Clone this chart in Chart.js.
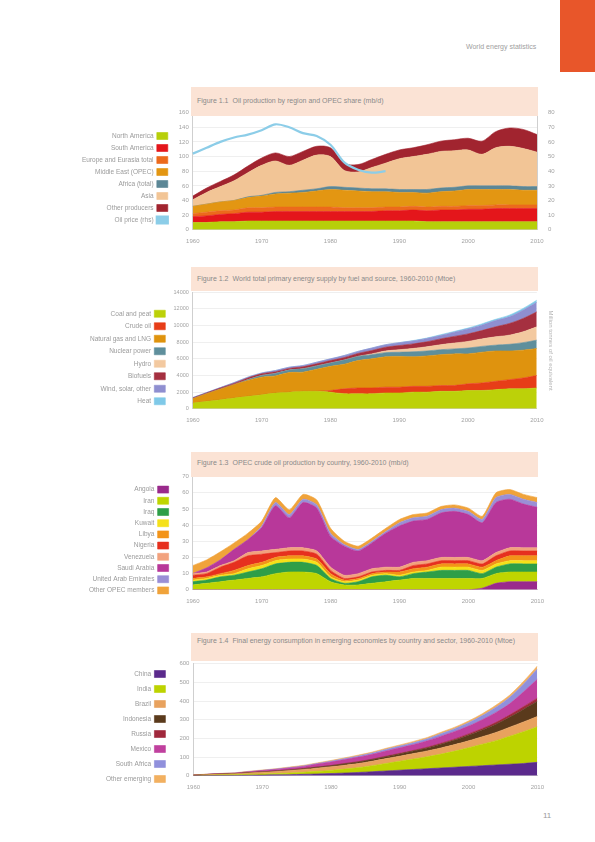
<!DOCTYPE html>
<html>
<head>
<meta charset="utf-8">
<script src="https://cdn.jsdelivr.net/npm/chart.js@4.4.1/dist/chart.umd.min.js"></script>
<style>
  html, body { margin: 0; padding: 0; background: #fff; }
  body { width: 595px; height: 842px; position: relative; overflow: hidden; font-family: "Liberation Sans", Arial, sans-serif; }
  .tab { position: absolute; left: 560px; top: 0; width: 35px; height: 72px; background: #e8562a; }
  .head { position: absolute; left: 466px; top: 43px; font-size: 7px; color: #a0a0a0; }
  .pageno { position: absolute; left: 543px; top: 811px; font-size: 8px; color: #9a9a9a; }
  .ttl { position: absolute; left: 191px; width: 347px; background: #fbe3d5; color: #8a8a8a; font-size: 7px; line-height: 11px;
         padding: 0 6px; box-sizing: border-box; display: flex; z-index: 2; }
  .ttl span:first-child { flex: none; margin-right: 4px; }
  canvas { position: absolute; z-index: 1; }
</style>
</head>
<body>
<div class="tab"></div>
<div class="head">World energy statistics</div>

<div class="ttl" style="top:87px;height:29px;padding-top:8px"><span>Figure 1.1</span><span>Oil production by region and OPEC share (mb/d)</span></div>
<div class="ttl" style="top:267px;height:24px;padding-top:6px"><span>Figure 1.2</span><span>World total primary energy supply by fuel and source, 1960-2010 (Mtoe)</span></div>
<div class="ttl" style="top:452px;height:25px;padding-top:5px"><span>Figure 1.3</span><span>OPEC crude oil production by country, 1960-2010 (mb/d)</span></div>
<div class="ttl" style="top:633px;height:28px;padding-top:2px;line-height:12px"><span>Figure 1.4</span><span>Final energy consumption in emerging economies by country and sector, 1960-2010 (Mtoe)</span></div>

<div class="pageno">11</div>

<script>
// ---- data ----
const YEARS = [1960,1962,1964,1966,1968,1970,1972,1974,1976,1978,1980,1982,1984,1986,1988,1990,1992,1994,1996,1998,2000,2002,2004,2006,2008,2010];

// figure 1.1 (left axis, stacked) + line on right axis
const c1Names  = ["North America","South America","Europe and Eurasia total","Middle East (OPEC)","Africa (total)","Asia","Other producers"];
const c1Colors = ["#b7cf0a","#e4161b","#ec6a1c","#e39612","#5c8796","#f2c596","#a1242f"];
const c1Green     = [10,10,11,11,12,12,12,12,12,12,12,12,12,12,12,12,12,11,11,11,11,11,11,11,11,11];
const c1Red       = [8,9,10,11,12,12,13,13,13,13,13,13,13,13,14,14,15,15,16,16,17,17,18,18,18,18];
const c1OrangeRed = [4,5,5,5,6,6,6,6,6,6,6,5,5,5,5,5,5,5,5,5,5,5,5,5,5,5];
const c1Orange    = [10,11,12,13,14,16,18,19,20,22,24,24,23,22,21,20,19,19,20,21,22,22,21,21,20,20];
const c1BlueGray  = [0,0,0,0,1,1,2,2,3,3,4,4,4,4,4,4,4,5,5,5,5,5,5,5,5,5];
const c1Peach     = [9,16,21,27,33,41,43,36,41,46,41,23,22,29,35,42,45,48,50,50,49,43,52,54,52,47];
const c1Maroon    = [5,6,7,8,9,10,11,12,12,12,12,10,10,11,12,12,12,13,14,15,16,18,22,25,26,24];
const c1Line      = [52,56,60,63,65,68,72,70,66,64,58,46,41,39,40,null,null,null,null,null,null,null,null,null,null,null];

// figure 1.2
const c2Names  = ["Coal and peat","Crude oil","Natural gas and LNG","Nuclear power","Hydro","Biofuels","Wind, solar, other","Heat"];
const c2Colors = ["#bcd109","#e73d18","#df930e","#5f8f9c","#f3c9a0","#a53040","#8f8fd0","#7fc9e8"];
const c2Green    = [700,900,1100,1300,1500,1700,1900,2000,2100,2100,2000,1800,1800,1800,1900,1900,2000,2000,2100,2100,2200,2200,2300,2400,2400,2500];
const c2Red      = [0,0,0,0,0,0,0,0,0,0,200,600,700,700,700,700,700,700,700,700,800,900,1000,1100,1300,1500];
const c2Orange   = [500,900,1250,1600,1900,2100,2050,2350,2300,2650,2900,2950,3300,3500,3650,3700,3550,3650,3700,3800,3600,3700,3650,3450,3350,3250];
const c2BlueGray = [0,0,0,0,100,200,300,300,400,400,400,500,500,500,500,500,600,600,600,600,700,700,700,800,900,1000];
const c2Peach    = [0,0,0,0,0,0,0,0,0,0,0,0,0,100,200,300,400,500,600,700,800,900,1000,1100,1300,1600];
const c2DarkRed  = [100,100,150,150,200,200,200,200,250,250,300,300,350,400,450,500,550,600,700,800,900,1000,1200,1400,1600,1800];
const c2Purple   = [50,50,50,100,100,100,150,150,150,200,200,250,250,300,300,350,350,400,400,500,600,650,750,800,1000,1150];
const c2Sky      = [0,0,0,0,0,0,0,0,0,0,0,0,0,0,0,0,50,50,100,100,100,150,150,200,200,250];

// figure 1.3
const c3Names  = ["Angola","Iran","Iraq","Kuwait","Libya","Nigeria","Venezuela","Saudi Arabia","United Arab Emirates","Other OPEC members"];
const c3Colors = ["#9a2a8c","#bfd500","#2e9e48","#f5e11a","#f39419","#e6301f","#f2a27e","#b8389a","#9a8fd6","#f0a33a"];
const c3Purple   = [0,0,0,0,0,0,0,0,0,0,0,0,0,0,0,0,0,0,0,0,0,1,4,5,5,5];
const c3YGreen   = [3,4,5,6,7,8,10,11,11,10,5,3,3,4,5,6,7,7,7,7,7,6,6,6,6,6];
const c3Green    = [2,2,3,3,4,5,6,6,6,5,2,1,2,4,4,2,3,4,5,5,5,3,4,5,5,5];
const c3Yellow   = [1,1,1,1,2,2,2,2,2,2,1,1,1,1,1,1,1,1,2,2,2,2,2,2,2,2];
const c3Orange   = [1,1,1,2,2,2,2,2,2,2,2,1,1,1,1,2,2,2,2,2,2,2,2,3,3,3];
const c3Red      = [2,2,4,5,6,5,3,3,3,3,2,1,1,1,1,1,2,2,2,2,2,2,3,3,3,3];
const c3Salmon   = [1,1,1,1,2,2,2,2,2,2,2,2,2,2,2,2,2,2,2,2,2,2,2,2,2,2];
const c3Magenta  = [0,2.5,3.5,7,8,14.5,27,18.5,28,26.5,19,18,14,16,21,25.5,25.5,25.5,27.5,28.5,26.5,23.5,31,30,27,25];
const c3Lavender = [0,0,0,0,0,1,2,2,2,2,2,1,1,1,1,2,2,2,2,2,2,2,3,3,3,3];
const c3Top      = [5,5,5,4,4,3,3,3,3,3,3,2,2,2,2,2,2,2,2,2,2,2,3,3,3,3];

// figure 1.4
const c4Names  = ["China","India","Brazil","Indonesia","Russia","Mexico","South Africa","Other emerging"];
const c4Colors = ["#5b2a8c","#bdd300","#e8a25e","#5a3a1c","#a0283c","#c0409e","#9090dc","#f2b060"];
const c4Purple   = [1,1,2,2,3,4,5,6,8,10,12,15,18,22,26,30,34,38,42,46,50,54,58,62,66,72];
const c4YGreen   = [1,2,3,4,5,6,7,9,11,14,17,21,26,32,40,48,56,64,74,86,100,115,130,150,170,190];
const c4Tan      = [2,3,4,5,7,9,11,13,15,17,19,21,22,24,26,27,29,31,33,35,37,40,44,48,52,55];
const c4Brown    = [0,1,1,1,2,2,3,3,4,5,6,7,8,9,10,12,14,16,20,24,30,36,44,54,68,82];
const c4Maroon   = [0,0,0,0,0,0,0,1,1,1,1,2,2,2,3,3,3,4,5,6,7,8,10,12,14,16];
const c4Magenta  = [0,1,2,2,4,7,8,10,11,16,19,21,24,26,28,30,31,34,38,40,42,47,53,60,79,101];
const c4Lavender = [0,0,0,1,1,1,2,2,3,3,4,5,6,7,8,9,10,11,13,15,18,22,28,34,42,55];
const c4Top      = [1,1,1,1,2,2,2,3,3,3,4,4,5,5,6,6,7,7,8,8,9,10,11,12,14,16];

// ---- helpers ----
const GREY = "#a3a3a3";
const tickFont = { family: "Liberation Sans", size: 6 };
Chart.defaults.font.family = "Liberation Sans";

function stack(names, colors, values, tension) {
  return names.map((name, i) => ({
    label: name, data: values[i],
    backgroundColor: colors[i], borderColor: colors[i], borderWidth: 0.6,
    fill: i === 0 ? "origin" : "-1", pointRadius: 0, tension: tension, yAxisID: "y",
  }));
}

function options(yMax, yStep, gap, fmt, yWidth) {
  return {
    responsive: false, maintainAspectRatio: false, animation: false, devicePixelRatio: 1,
    layout: { padding: { left: 10, right: 2, top: 6, bottom: 0 } },
    plugins: {
      tooltip: { enabled: false },
      legend: {
        position: "left", rtl: true, textDirection: "ltr", maxWidth: 250,
        labels: {
          boxWidth: 11, boxHeight: 7, padding: gap, color: "#9a9a9a",
          font: { family: "Liberation Sans", size: 6.5 },
          sort: (a, b) => a.datasetIndex - b.datasetIndex,
        },
      },
    },
    scales: {
      x: {
        grid: { display: false }, border: { color: "#cfcfcf" },
        ticks: { autoSkip: false, maxRotation: 0, color: GREY, font: tickFont, padding: 0,
                 callback: (v, i) => i % 5 === 0 ? YEARS[i] : "" },
      },
      y: {
        stacked: true, min: 0, max: yMax,
        grid: { color: "#efefef", drawTicks: false }, border: { color: "#cfcfcf" },
        ticks: { stepSize: yStep, color: GREY, font: tickFont, padding: 4, callback: fmt || (v => v) },
        afterFit: s => { s.width = yWidth || 20; },
      },
    },
  };
}

// draw once to measure the margins round the plot, then redraw so the plot sits on box [l, t, r, b]
function build(makeConfig, box) {
  const probe = document.createElement("canvas");
  probe.width = 900; probe.height = 160;
  document.body.appendChild(probe);
  const p = new Chart(probe, makeConfig());
  const a = p.chartArea;
  const m = { l: a.left, t: a.top, r: p.width - a.right, b: p.height - a.bottom };
  p.destroy();
  probe.remove();

  const cv = document.createElement("canvas");
  cv.width = Math.round(box[2] - box[0] + m.l + m.r);
  cv.height = Math.round(box[3] - box[1] + m.t + m.b);
  cv.style.left = (box[0] - m.l) + "px";
  cv.style.top = (box[1] - m.t) + "px";
  document.body.appendChild(cv);
  return new Chart(cv, makeConfig());
}

// ---- figure 1.1 ----
build(() => {
  const o = options(160, 20, 5);
  o.scales.y2 = {
    position: "right", min: 0, max: 80, grid: { display: false }, border: { color: "#cfcfcf" },
    ticks: { stepSize: 10, color: GREY, font: tickFont, padding: 3 },
    afterFit: s => { s.width = 22; },
  };
  const ds = stack(c1Names, c1Colors, [c1Green, c1Red, c1OrangeRed, c1Orange, c1BlueGray, c1Peach, c1Maroon], 0.3);
  ds.push({
    label: "Oil price (rhs)", data: c1Line, yAxisID: "y2", order: -1,
    borderColor: "#8ccde8", backgroundColor: "#8ccde8", borderWidth: 2.2,
    fill: false, pointRadius: 0, tension: 0.3,
  });
  return { type: "line", data: { labels: YEARS, datasets: ds }, options: o };
}, [193, 113, 537, 230]);

// ---- figure 1.2 ----
build(() => {
  const o = options(14000, 2000, 5.5, null, 22);
  o.scales.y.ticks.font = { family: "Liberation Sans", size: 5.5 };
  o.scales.y2 = {
    position: "right", grid: { display: false }, border: { display: false }, ticks: { display: false },
    title: { display: true, text: "Million tonnes of oil equivalent", color: "#b5b5b5", font: { size: 6 }, padding: 2 },
  };
  return {
    type: "line",
    data: { labels: YEARS, datasets: stack(c2Names, c2Colors, [c2Green, c2Red, c2Orange, c2BlueGray, c2Peach, c2DarkRed, c2Purple, c2Sky], 0.3) },
    options: o,
  };
}, [193, 292, 537, 408]);

// ---- figure 1.3 ----
build(() => ({
  type: "line",
  data: { labels: YEARS, datasets: stack(c3Names, c3Colors, [c3Purple, c3YGreen, c3Green, c3Yellow, c3Orange, c3Red, c3Salmon, c3Magenta, c3Lavender, c3Top], 0.2) },
  options: options(70, 10, 4.2),
}), [193, 477, 537, 590]);

// ---- figure 1.4 ----
build(() => ({
  type: "line",
  data: { labels: YEARS, datasets: stack(c4Names, c4Colors, [c4Purple, c4YGreen, c4Tan, c4Brown, c4Maroon, c4Magenta, c4Lavender, c4Top], 0.3) },
  options: options(600, 100, 8),
}), [193, 664, 537, 776]);
</script>
</body>
</html>
